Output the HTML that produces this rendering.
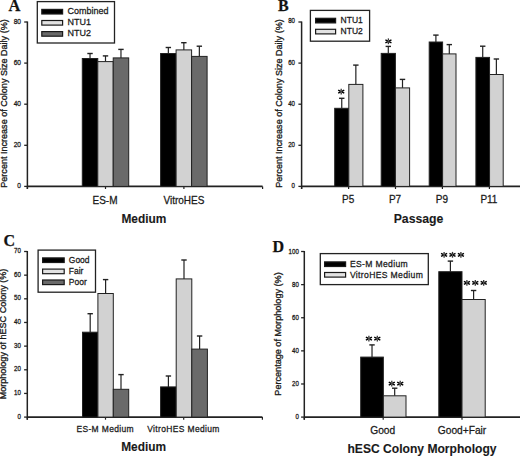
<!DOCTYPE html>
<html><head><meta charset="utf-8"><style>
html,body{margin:0;padding:0;background:#fff;}
svg{display:block;}
</style></head><body>
<svg width="520" height="457" viewBox="0 0 520 457">
<rect x="0" y="0" width="520" height="457" fill="#fff"/>
<text x="0" y="0" transform="translate(8.40 10.50)" font-family="&quot;Liberation Serif&quot;, serif" font-size="16.5" font-weight="bold" text-anchor="start" fill="#111" stroke="#1a1a1a" stroke-width="0.25">A</text>
<line x1="27.40" y1="21.50" x2="27.40" y2="189.00" stroke="#222" stroke-width="1.5"/>
<line x1="24.20" y1="186.40" x2="27.40" y2="186.40" stroke="#222" stroke-width="1.3"/>
<text x="0" y="0" transform="translate(21.00 188.01) scale(1 1.100)" font-family="&quot;Liberation Sans&quot;, sans-serif" font-size="6.6" font-weight="normal" text-anchor="end" fill="#1a1a1a" stroke="#1a1a1a" stroke-width="0.25">0</text>
<line x1="24.20" y1="145.30" x2="27.40" y2="145.30" stroke="#222" stroke-width="1.3"/>
<text x="0" y="0" transform="translate(21.00 146.91) scale(1 1.100)" font-family="&quot;Liberation Sans&quot;, sans-serif" font-size="6.6" font-weight="normal" text-anchor="end" fill="#1a1a1a" stroke="#1a1a1a" stroke-width="0.25">20</text>
<line x1="24.20" y1="104.20" x2="27.40" y2="104.20" stroke="#222" stroke-width="1.3"/>
<text x="0" y="0" transform="translate(21.00 105.81) scale(1 1.100)" font-family="&quot;Liberation Sans&quot;, sans-serif" font-size="6.6" font-weight="normal" text-anchor="end" fill="#1a1a1a" stroke="#1a1a1a" stroke-width="0.25">40</text>
<line x1="24.20" y1="63.10" x2="27.40" y2="63.10" stroke="#222" stroke-width="1.3"/>
<text x="0" y="0" transform="translate(21.00 64.71) scale(1 1.100)" font-family="&quot;Liberation Sans&quot;, sans-serif" font-size="6.6" font-weight="normal" text-anchor="end" fill="#1a1a1a" stroke="#1a1a1a" stroke-width="0.25">60</text>
<line x1="24.20" y1="22.00" x2="27.40" y2="22.00" stroke="#222" stroke-width="1.3"/>
<text x="0" y="0" transform="translate(21.00 23.61) scale(1 1.100)" font-family="&quot;Liberation Sans&quot;, sans-serif" font-size="6.6" font-weight="normal" text-anchor="end" fill="#1a1a1a" stroke="#1a1a1a" stroke-width="0.25">80</text>
<line x1="27.40" y1="186.40" x2="262.60" y2="186.40" stroke="#222" stroke-width="1.6"/>
<line x1="27.40" y1="186.40" x2="27.40" y2="189.00" stroke="#222" stroke-width="1.2"/>
<line x1="105.50" y1="186.40" x2="105.50" y2="189.00" stroke="#222" stroke-width="1.2"/>
<line x1="183.90" y1="186.40" x2="183.90" y2="189.00" stroke="#222" stroke-width="1.2"/>
<line x1="262.60" y1="186.40" x2="262.60" y2="189.00" stroke="#222" stroke-width="1.2"/>
<line x1="90.03" y1="58.50" x2="90.03" y2="53.50" stroke="#222" stroke-width="1.2"/>
<line x1="87.33" y1="53.50" x2="92.73" y2="53.50" stroke="#222" stroke-width="1.4"/>
<rect x="82.30" y="58.50" width="15.47" height="127.90" fill="#000" stroke="#222" stroke-width="1.0"/>
<line x1="105.50" y1="61.60" x2="105.50" y2="55.90" stroke="#222" stroke-width="1.2"/>
<line x1="102.80" y1="55.90" x2="108.20" y2="55.90" stroke="#222" stroke-width="1.4"/>
<rect x="97.77" y="61.60" width="15.47" height="124.80" fill="#d2d2d2" stroke="#222" stroke-width="1.0"/>
<line x1="120.97" y1="57.90" x2="120.97" y2="49.40" stroke="#222" stroke-width="1.2"/>
<line x1="118.27" y1="49.40" x2="123.67" y2="49.40" stroke="#222" stroke-width="1.4"/>
<rect x="113.23" y="57.90" width="15.47" height="128.50" fill="#6a6a6a" stroke="#222" stroke-width="1.0"/>
<line x1="168.35" y1="53.50" x2="168.35" y2="47.50" stroke="#222" stroke-width="1.2"/>
<line x1="165.65" y1="47.50" x2="171.05" y2="47.50" stroke="#222" stroke-width="1.4"/>
<rect x="160.60" y="53.50" width="15.50" height="132.90" fill="#000" stroke="#222" stroke-width="1.0"/>
<line x1="183.85" y1="49.90" x2="183.85" y2="42.70" stroke="#222" stroke-width="1.2"/>
<line x1="181.15" y1="42.70" x2="186.55" y2="42.70" stroke="#222" stroke-width="1.4"/>
<rect x="176.10" y="49.90" width="15.50" height="136.50" fill="#d2d2d2" stroke="#222" stroke-width="1.0"/>
<line x1="199.35" y1="56.40" x2="199.35" y2="46.20" stroke="#222" stroke-width="1.2"/>
<line x1="196.65" y1="46.20" x2="202.05" y2="46.20" stroke="#222" stroke-width="1.4"/>
<rect x="191.60" y="56.40" width="15.50" height="130.00" fill="#6a6a6a" stroke="#222" stroke-width="1.0"/>
<rect x="37.30" y="1.60" width="77.20" height="41.40" fill="#fff" stroke="#222" stroke-width="1.3"/>
<rect x="41.80" y="9.40" width="20.80" height="4.60" fill="#000" stroke="#1a1a1a" stroke-width="1.2"/>
<text x="0" y="0" transform="translate(67.50 14.26) scale(1 1.100)" font-family="&quot;Liberation Sans&quot;, sans-serif" font-size="9.0" font-weight="normal" text-anchor="start" fill="#1a1a1a" stroke="#1a1a1a" stroke-width="0.25">Combined</text>
<rect x="41.80" y="20.50" width="20.80" height="4.60" fill="#e2e2e2" stroke="#1a1a1a" stroke-width="1.2"/>
<text x="0" y="0" transform="translate(67.50 25.36) scale(1 1.100)" font-family="&quot;Liberation Sans&quot;, sans-serif" font-size="9.0" font-weight="normal" text-anchor="start" fill="#1a1a1a" stroke="#1a1a1a" stroke-width="0.25">NTU1</text>
<rect x="41.80" y="31.60" width="20.80" height="4.60" fill="#6a6a6a" stroke="#1a1a1a" stroke-width="1.2"/>
<text x="0" y="0" transform="translate(67.50 36.46) scale(1 1.100)" font-family="&quot;Liberation Sans&quot;, sans-serif" font-size="9.0" font-weight="normal" text-anchor="start" fill="#1a1a1a" stroke="#1a1a1a" stroke-width="0.25">NTU2</text>
<text x="0" y="0" transform="translate(6.60 103.50) rotate(-90)" font-family="&quot;Liberation Sans&quot;, sans-serif" font-size="9.05" font-weight="normal" text-anchor="middle" fill="#1a1a1a" stroke="#1a1a1a" stroke-width="0.32">Percent Increase of Colony Size Daily (%)</text>
<text x="0" y="0" transform="translate(105.00 203.60) scale(1 1.030)" font-family="&quot;Liberation Sans&quot;, sans-serif" font-size="10" font-weight="normal" text-anchor="middle" fill="#1a1a1a" stroke="#1a1a1a" stroke-width="0.25">ES-M</text>
<text x="0" y="0" transform="translate(183.90 203.60) scale(1 1.030)" font-family="&quot;Liberation Sans&quot;, sans-serif" font-size="10" font-weight="normal" text-anchor="middle" fill="#1a1a1a" stroke="#1a1a1a" stroke-width="0.25">VitroHES</text>
<text x="0" y="0" transform="translate(143.90 222.80) scale(1 1.080)" font-family="&quot;Liberation Sans&quot;, sans-serif" font-size="11.9" font-weight="bold" text-anchor="middle" fill="#1a1a1a" stroke="#1a1a1a" stroke-width="0.1">Medium</text>
<text x="0" y="0" transform="translate(277.90 10.80)" font-family="&quot;Liberation Serif&quot;, serif" font-size="16" font-weight="bold" text-anchor="start" fill="#111" stroke="#1a1a1a" stroke-width="0.25">B</text>
<line x1="301.60" y1="21.50" x2="301.60" y2="189.00" stroke="#222" stroke-width="1.5"/>
<line x1="298.40" y1="186.40" x2="301.60" y2="186.40" stroke="#222" stroke-width="1.3"/>
<text x="0" y="0" transform="translate(295.00 187.82) scale(1 1.100)" font-family="&quot;Liberation Sans&quot;, sans-serif" font-size="6.1" font-weight="normal" text-anchor="end" fill="#1a1a1a" stroke="#1a1a1a" stroke-width="0.25">0</text>
<line x1="298.40" y1="145.30" x2="301.60" y2="145.30" stroke="#222" stroke-width="1.3"/>
<text x="0" y="0" transform="translate(295.00 146.72) scale(1 1.100)" font-family="&quot;Liberation Sans&quot;, sans-serif" font-size="6.1" font-weight="normal" text-anchor="end" fill="#1a1a1a" stroke="#1a1a1a" stroke-width="0.25">20</text>
<line x1="298.40" y1="104.20" x2="301.60" y2="104.20" stroke="#222" stroke-width="1.3"/>
<text x="0" y="0" transform="translate(295.00 105.62) scale(1 1.100)" font-family="&quot;Liberation Sans&quot;, sans-serif" font-size="6.1" font-weight="normal" text-anchor="end" fill="#1a1a1a" stroke="#1a1a1a" stroke-width="0.25">40</text>
<line x1="298.40" y1="63.10" x2="301.60" y2="63.10" stroke="#222" stroke-width="1.3"/>
<text x="0" y="0" transform="translate(295.00 64.52) scale(1 1.100)" font-family="&quot;Liberation Sans&quot;, sans-serif" font-size="6.1" font-weight="normal" text-anchor="end" fill="#1a1a1a" stroke="#1a1a1a" stroke-width="0.25">60</text>
<line x1="298.40" y1="22.00" x2="301.60" y2="22.00" stroke="#222" stroke-width="1.3"/>
<text x="0" y="0" transform="translate(295.00 23.42) scale(1 1.100)" font-family="&quot;Liberation Sans&quot;, sans-serif" font-size="6.1" font-weight="normal" text-anchor="end" fill="#1a1a1a" stroke="#1a1a1a" stroke-width="0.25">80</text>
<line x1="301.60" y1="186.40" x2="520.00" y2="186.40" stroke="#222" stroke-width="1.6"/>
<line x1="301.60" y1="186.40" x2="301.60" y2="189.00" stroke="#222" stroke-width="1.2"/>
<line x1="348.60" y1="186.40" x2="348.60" y2="189.00" stroke="#222" stroke-width="1.2"/>
<line x1="395.50" y1="186.40" x2="395.50" y2="189.00" stroke="#222" stroke-width="1.2"/>
<line x1="442.40" y1="186.40" x2="442.40" y2="189.00" stroke="#222" stroke-width="1.2"/>
<line x1="489.40" y1="186.40" x2="489.40" y2="189.00" stroke="#222" stroke-width="1.2"/>
<line x1="341.75" y1="108.30" x2="341.75" y2="98.30" stroke="#222" stroke-width="1.2"/>
<line x1="339.05" y1="98.30" x2="344.45" y2="98.30" stroke="#222" stroke-width="1.4"/>
<rect x="334.70" y="108.30" width="14.10" height="78.10" fill="#000" stroke="#222" stroke-width="1.0"/>
<line x1="355.85" y1="84.40" x2="355.85" y2="65.10" stroke="#222" stroke-width="1.2"/>
<line x1="353.15" y1="65.10" x2="358.55" y2="65.10" stroke="#222" stroke-width="1.4"/>
<rect x="348.80" y="84.40" width="14.10" height="102.00" fill="#d2d2d2" stroke="#222" stroke-width="1.0"/>
<line x1="388.30" y1="53.40" x2="388.30" y2="46.40" stroke="#222" stroke-width="1.2"/>
<line x1="385.60" y1="46.40" x2="391.00" y2="46.40" stroke="#222" stroke-width="1.4"/>
<rect x="381.20" y="53.40" width="14.20" height="133.00" fill="#000" stroke="#222" stroke-width="1.0"/>
<line x1="402.50" y1="87.90" x2="402.50" y2="79.40" stroke="#222" stroke-width="1.2"/>
<line x1="399.80" y1="79.40" x2="405.20" y2="79.40" stroke="#222" stroke-width="1.4"/>
<rect x="395.40" y="87.90" width="14.20" height="98.50" fill="#d2d2d2" stroke="#222" stroke-width="1.0"/>
<line x1="435.90" y1="42.00" x2="435.90" y2="35.10" stroke="#222" stroke-width="1.2"/>
<line x1="433.20" y1="35.10" x2="438.60" y2="35.10" stroke="#222" stroke-width="1.4"/>
<rect x="429.20" y="42.00" width="13.40" height="144.40" fill="#000" stroke="#222" stroke-width="1.0"/>
<line x1="449.30" y1="53.90" x2="449.30" y2="44.60" stroke="#222" stroke-width="1.2"/>
<line x1="446.60" y1="44.60" x2="452.00" y2="44.60" stroke="#222" stroke-width="1.4"/>
<rect x="442.60" y="53.90" width="13.40" height="132.50" fill="#d2d2d2" stroke="#222" stroke-width="1.0"/>
<line x1="482.72" y1="57.40" x2="482.72" y2="46.20" stroke="#222" stroke-width="1.2"/>
<line x1="480.02" y1="46.20" x2="485.42" y2="46.20" stroke="#222" stroke-width="1.4"/>
<rect x="475.90" y="57.40" width="13.65" height="129.00" fill="#000" stroke="#222" stroke-width="1.0"/>
<line x1="496.38" y1="74.50" x2="496.38" y2="59.00" stroke="#222" stroke-width="1.2"/>
<line x1="493.68" y1="59.00" x2="499.07" y2="59.00" stroke="#222" stroke-width="1.4"/>
<rect x="489.55" y="74.50" width="13.65" height="111.90" fill="#d2d2d2" stroke="#222" stroke-width="1.0"/>
<line x1="341.20" y1="90.80" x2="341.20" y2="88.70" stroke="#333" stroke-width="1.3"/>
<line x1="341.20" y1="92.40" x2="341.20" y2="94.50" stroke="#333" stroke-width="1.3"/>
<line x1="341.73" y1="91.33" x2="344.23" y2="90.06" stroke="#000" stroke-width="1.4"/>
<line x1="341.73" y1="91.87" x2="344.23" y2="93.14" stroke="#000" stroke-width="1.4"/>
<line x1="340.67" y1="91.33" x2="338.17" y2="90.06" stroke="#000" stroke-width="1.4"/>
<line x1="340.67" y1="91.87" x2="338.17" y2="93.14" stroke="#000" stroke-width="1.4"/>
<circle cx="341.20" cy="91.60" r="0.9" fill="#444"/>
<line x1="388.40" y1="40.50" x2="388.40" y2="38.40" stroke="#333" stroke-width="1.3"/>
<line x1="388.40" y1="42.10" x2="388.40" y2="44.20" stroke="#333" stroke-width="1.3"/>
<line x1="388.93" y1="41.03" x2="391.43" y2="39.76" stroke="#000" stroke-width="1.4"/>
<line x1="388.93" y1="41.57" x2="391.43" y2="42.84" stroke="#000" stroke-width="1.4"/>
<line x1="387.87" y1="41.03" x2="385.37" y2="39.76" stroke="#000" stroke-width="1.4"/>
<line x1="387.87" y1="41.57" x2="385.37" y2="42.84" stroke="#000" stroke-width="1.4"/>
<circle cx="388.40" cy="41.30" r="0.9" fill="#444"/>
<rect x="310.40" y="10.40" width="59.20" height="30.80" fill="#fff" stroke="#222" stroke-width="1.3"/>
<rect x="315.60" y="18.30" width="20.00" height="4.60" fill="#000" stroke="#1a1a1a" stroke-width="1.2"/>
<text x="0" y="0" transform="translate(340.60 22.97) scale(1 1.100)" font-family="&quot;Liberation Sans&quot;, sans-serif" font-size="8.5" font-weight="normal" text-anchor="start" fill="#1a1a1a" stroke="#1a1a1a" stroke-width="0.25">NTU1</text>
<rect x="315.60" y="29.30" width="20.00" height="4.60" fill="#e2e2e2" stroke="#1a1a1a" stroke-width="1.2"/>
<text x="0" y="0" transform="translate(340.60 33.97) scale(1 1.100)" font-family="&quot;Liberation Sans&quot;, sans-serif" font-size="8.5" font-weight="normal" text-anchor="start" fill="#1a1a1a" stroke="#1a1a1a" stroke-width="0.25">NTU2</text>
<text x="0" y="0" transform="translate(281.80 103.50) rotate(-90)" font-family="&quot;Liberation Sans&quot;, sans-serif" font-size="9.05" font-weight="normal" text-anchor="middle" fill="#1a1a1a" stroke="#1a1a1a" stroke-width="0.32">Percent Increase of Colony Size Daily (%)</text>
<text x="0" y="0" transform="translate(348.10 203.20) scale(1 1.030)" font-family="&quot;Liberation Sans&quot;, sans-serif" font-size="10" font-weight="normal" text-anchor="middle" fill="#1a1a1a" stroke="#1a1a1a" stroke-width="0.25">P5</text>
<text x="0" y="0" transform="translate(395.00 203.20) scale(1 1.030)" font-family="&quot;Liberation Sans&quot;, sans-serif" font-size="10" font-weight="normal" text-anchor="middle" fill="#1a1a1a" stroke="#1a1a1a" stroke-width="0.25">P7</text>
<text x="0" y="0" transform="translate(441.90 203.20) scale(1 1.030)" font-family="&quot;Liberation Sans&quot;, sans-serif" font-size="10" font-weight="normal" text-anchor="middle" fill="#1a1a1a" stroke="#1a1a1a" stroke-width="0.25">P9</text>
<text x="0" y="0" transform="translate(488.90 203.20) scale(1 1.030)" font-family="&quot;Liberation Sans&quot;, sans-serif" font-size="10" font-weight="normal" text-anchor="middle" fill="#1a1a1a" stroke="#1a1a1a" stroke-width="0.25">P11</text>
<text x="0" y="0" transform="translate(418.50 223.00) scale(1 1.080)" font-family="&quot;Liberation Sans&quot;, sans-serif" font-size="12.25" font-weight="bold" text-anchor="middle" fill="#1a1a1a" stroke="#1a1a1a" stroke-width="0.1">Passage</text>
<text x="0" y="0" transform="translate(3.50 246.20)" font-family="&quot;Liberation Serif&quot;, serif" font-size="16" font-weight="bold" text-anchor="start" fill="#111" stroke="#1a1a1a" stroke-width="0.25">C</text>
<line x1="27.30" y1="251.00" x2="27.30" y2="419.70" stroke="#222" stroke-width="1.5"/>
<line x1="24.10" y1="417.10" x2="27.30" y2="417.10" stroke="#222" stroke-width="1.3"/>
<text x="0" y="0" transform="translate(21.00 418.56) scale(1 1.100)" font-family="&quot;Liberation Sans&quot;, sans-serif" font-size="6.2" font-weight="normal" text-anchor="end" fill="#1a1a1a" stroke="#1a1a1a" stroke-width="0.25">0</text>
<line x1="24.10" y1="393.44" x2="27.30" y2="393.44" stroke="#222" stroke-width="1.3"/>
<text x="0" y="0" transform="translate(21.00 394.90) scale(1 1.100)" font-family="&quot;Liberation Sans&quot;, sans-serif" font-size="6.2" font-weight="normal" text-anchor="end" fill="#1a1a1a" stroke="#1a1a1a" stroke-width="0.25">10</text>
<line x1="24.10" y1="369.79" x2="27.30" y2="369.79" stroke="#222" stroke-width="1.3"/>
<text x="0" y="0" transform="translate(21.00 371.24) scale(1 1.100)" font-family="&quot;Liberation Sans&quot;, sans-serif" font-size="6.2" font-weight="normal" text-anchor="end" fill="#1a1a1a" stroke="#1a1a1a" stroke-width="0.25">20</text>
<line x1="24.10" y1="346.13" x2="27.30" y2="346.13" stroke="#222" stroke-width="1.3"/>
<text x="0" y="0" transform="translate(21.00 347.58) scale(1 1.100)" font-family="&quot;Liberation Sans&quot;, sans-serif" font-size="6.2" font-weight="normal" text-anchor="end" fill="#1a1a1a" stroke="#1a1a1a" stroke-width="0.25">30</text>
<line x1="24.10" y1="322.47" x2="27.30" y2="322.47" stroke="#222" stroke-width="1.3"/>
<text x="0" y="0" transform="translate(21.00 323.93) scale(1 1.100)" font-family="&quot;Liberation Sans&quot;, sans-serif" font-size="6.2" font-weight="normal" text-anchor="end" fill="#1a1a1a" stroke="#1a1a1a" stroke-width="0.25">40</text>
<line x1="24.10" y1="298.81" x2="27.30" y2="298.81" stroke="#222" stroke-width="1.3"/>
<text x="0" y="0" transform="translate(21.00 300.27) scale(1 1.100)" font-family="&quot;Liberation Sans&quot;, sans-serif" font-size="6.2" font-weight="normal" text-anchor="end" fill="#1a1a1a" stroke="#1a1a1a" stroke-width="0.25">50</text>
<line x1="24.10" y1="275.16" x2="27.30" y2="275.16" stroke="#222" stroke-width="1.3"/>
<text x="0" y="0" transform="translate(21.00 276.61) scale(1 1.100)" font-family="&quot;Liberation Sans&quot;, sans-serif" font-size="6.2" font-weight="normal" text-anchor="end" fill="#1a1a1a" stroke="#1a1a1a" stroke-width="0.25">60</text>
<line x1="24.10" y1="251.50" x2="27.30" y2="251.50" stroke="#222" stroke-width="1.3"/>
<text x="0" y="0" transform="translate(21.00 252.96) scale(1 1.100)" font-family="&quot;Liberation Sans&quot;, sans-serif" font-size="6.2" font-weight="normal" text-anchor="end" fill="#1a1a1a" stroke="#1a1a1a" stroke-width="0.25">70</text>
<line x1="27.30" y1="417.10" x2="262.40" y2="417.10" stroke="#222" stroke-width="1.6"/>
<line x1="27.30" y1="417.10" x2="27.30" y2="419.70" stroke="#222" stroke-width="1.2"/>
<line x1="105.50" y1="417.10" x2="105.50" y2="419.70" stroke="#222" stroke-width="1.2"/>
<line x1="183.70" y1="417.10" x2="183.70" y2="419.70" stroke="#222" stroke-width="1.2"/>
<line x1="262.40" y1="417.10" x2="262.40" y2="419.70" stroke="#222" stroke-width="1.2"/>
<line x1="90.20" y1="332.20" x2="90.20" y2="313.70" stroke="#222" stroke-width="1.2"/>
<line x1="87.50" y1="313.70" x2="92.90" y2="313.70" stroke="#222" stroke-width="1.4"/>
<rect x="82.50" y="332.20" width="15.40" height="84.90" fill="#000" stroke="#222" stroke-width="1.0"/>
<line x1="105.60" y1="293.50" x2="105.60" y2="279.60" stroke="#222" stroke-width="1.2"/>
<line x1="102.90" y1="279.60" x2="108.30" y2="279.60" stroke="#222" stroke-width="1.4"/>
<rect x="97.90" y="293.50" width="15.40" height="123.60" fill="#d2d2d2" stroke="#222" stroke-width="1.0"/>
<line x1="121.00" y1="389.30" x2="121.00" y2="374.60" stroke="#222" stroke-width="1.2"/>
<line x1="118.30" y1="374.60" x2="123.70" y2="374.60" stroke="#222" stroke-width="1.4"/>
<rect x="113.30" y="389.30" width="15.40" height="27.80" fill="#6a6a6a" stroke="#222" stroke-width="1.0"/>
<line x1="168.40" y1="386.90" x2="168.40" y2="376.00" stroke="#222" stroke-width="1.2"/>
<line x1="165.70" y1="376.00" x2="171.10" y2="376.00" stroke="#222" stroke-width="1.4"/>
<rect x="160.60" y="386.90" width="15.60" height="30.20" fill="#000" stroke="#222" stroke-width="1.0"/>
<line x1="184.00" y1="278.90" x2="184.00" y2="260.00" stroke="#222" stroke-width="1.2"/>
<line x1="181.30" y1="260.00" x2="186.70" y2="260.00" stroke="#222" stroke-width="1.4"/>
<rect x="176.20" y="278.90" width="15.60" height="138.20" fill="#d2d2d2" stroke="#222" stroke-width="1.0"/>
<line x1="199.60" y1="349.10" x2="199.60" y2="336.00" stroke="#222" stroke-width="1.2"/>
<line x1="196.90" y1="336.00" x2="202.30" y2="336.00" stroke="#222" stroke-width="1.4"/>
<rect x="191.80" y="349.10" width="15.60" height="68.00" fill="#6a6a6a" stroke="#222" stroke-width="1.0"/>
<rect x="38.10" y="250.10" width="57.40" height="42.10" fill="#fff" stroke="#222" stroke-width="1.3"/>
<rect x="42.60" y="257.90" width="21.60" height="4.60" fill="#000" stroke="#1a1a1a" stroke-width="1.2"/>
<text x="0" y="0" transform="translate(68.80 262.57) scale(1 1.100)" font-family="&quot;Liberation Sans&quot;, sans-serif" font-size="8.5" font-weight="normal" text-anchor="start" fill="#1a1a1a" stroke="#1a1a1a" stroke-width="0.25">Good</text>
<rect x="42.60" y="269.10" width="21.60" height="4.60" fill="#e2e2e2" stroke="#1a1a1a" stroke-width="1.2"/>
<text x="0" y="0" transform="translate(68.80 273.77) scale(1 1.100)" font-family="&quot;Liberation Sans&quot;, sans-serif" font-size="8.5" font-weight="normal" text-anchor="start" fill="#1a1a1a" stroke="#1a1a1a" stroke-width="0.25">Fair</text>
<rect x="42.60" y="280.00" width="21.60" height="4.60" fill="#6a6a6a" stroke="#1a1a1a" stroke-width="1.2"/>
<text x="0" y="0" transform="translate(68.80 284.67) scale(1 1.100)" font-family="&quot;Liberation Sans&quot;, sans-serif" font-size="8.5" font-weight="normal" text-anchor="start" fill="#1a1a1a" stroke="#1a1a1a" stroke-width="0.25">Poor</text>
<text x="0" y="0" transform="translate(6.30 334.00) rotate(-90)" font-family="&quot;Liberation Sans&quot;, sans-serif" font-size="9.05" font-weight="normal" text-anchor="middle" fill="#1a1a1a" stroke="#1a1a1a" stroke-width="0.32">Morphology of hESC Colony (%)</text>
<text x="0" y="0" transform="translate(105.20 431.90) scale(1 1.100)" font-family="&quot;Liberation Sans&quot;, sans-serif" font-size="8.5" font-weight="normal" text-anchor="middle" fill="#1a1a1a" letter-spacing="0.35" stroke="#1a1a1a" stroke-width="0.25">ES-M Medium</text>
<text x="0" y="0" transform="translate(183.50 431.90) scale(1 1.100)" font-family="&quot;Liberation Sans&quot;, sans-serif" font-size="8.5" font-weight="normal" text-anchor="middle" fill="#1a1a1a" letter-spacing="0.35" stroke="#1a1a1a" stroke-width="0.25">VitroHES Medium</text>
<text x="0" y="0" transform="translate(143.60 451.00) scale(1 1.080)" font-family="&quot;Liberation Sans&quot;, sans-serif" font-size="11.9" font-weight="bold" text-anchor="middle" fill="#1a1a1a" stroke="#1a1a1a" stroke-width="0.1">Medium</text>
<text x="0" y="0" transform="translate(272.60 251.60)" font-family="&quot;Liberation Serif&quot;, serif" font-size="16" font-weight="bold" text-anchor="start" fill="#111" stroke="#1a1a1a" stroke-width="0.25">D</text>
<line x1="304.30" y1="251.00" x2="304.30" y2="419.70" stroke="#222" stroke-width="1.5"/>
<line x1="301.10" y1="417.10" x2="304.30" y2="417.10" stroke="#222" stroke-width="1.3"/>
<text x="0" y="0" transform="translate(298.80 419.32) scale(1 1.100)" font-family="&quot;Liberation Sans&quot;, sans-serif" font-size="6.1" font-weight="normal" text-anchor="end" fill="#1a1a1a" stroke="#1a1a1a" stroke-width="0.25">0</text>
<line x1="301.10" y1="383.98" x2="304.30" y2="383.98" stroke="#222" stroke-width="1.3"/>
<text x="0" y="0" transform="translate(298.80 386.20) scale(1 1.100)" font-family="&quot;Liberation Sans&quot;, sans-serif" font-size="6.1" font-weight="normal" text-anchor="end" fill="#1a1a1a" stroke="#1a1a1a" stroke-width="0.25">20</text>
<line x1="301.10" y1="350.86" x2="304.30" y2="350.86" stroke="#222" stroke-width="1.3"/>
<text x="0" y="0" transform="translate(298.80 353.08) scale(1 1.100)" font-family="&quot;Liberation Sans&quot;, sans-serif" font-size="6.1" font-weight="normal" text-anchor="end" fill="#1a1a1a" stroke="#1a1a1a" stroke-width="0.25">40</text>
<line x1="301.10" y1="317.74" x2="304.30" y2="317.74" stroke="#222" stroke-width="1.3"/>
<text x="0" y="0" transform="translate(298.80 319.96) scale(1 1.100)" font-family="&quot;Liberation Sans&quot;, sans-serif" font-size="6.1" font-weight="normal" text-anchor="end" fill="#1a1a1a" stroke="#1a1a1a" stroke-width="0.25">60</text>
<line x1="301.10" y1="284.62" x2="304.30" y2="284.62" stroke="#222" stroke-width="1.3"/>
<text x="0" y="0" transform="translate(298.80 286.84) scale(1 1.100)" font-family="&quot;Liberation Sans&quot;, sans-serif" font-size="6.1" font-weight="normal" text-anchor="end" fill="#1a1a1a" stroke="#1a1a1a" stroke-width="0.25">80</text>
<line x1="301.10" y1="251.50" x2="304.30" y2="251.50" stroke="#222" stroke-width="1.3"/>
<text x="0" y="0" transform="translate(298.80 253.72) scale(1 1.100)" font-family="&quot;Liberation Sans&quot;, sans-serif" font-size="6.1" font-weight="normal" text-anchor="end" fill="#1a1a1a" stroke="#1a1a1a" stroke-width="0.25">100</text>
<line x1="304.30" y1="417.10" x2="520.00" y2="417.10" stroke="#222" stroke-width="1.6"/>
<line x1="304.30" y1="417.10" x2="304.30" y2="419.70" stroke="#222" stroke-width="1.2"/>
<line x1="383.20" y1="417.10" x2="383.20" y2="419.70" stroke="#222" stroke-width="1.2"/>
<line x1="462.00" y1="417.10" x2="462.00" y2="419.70" stroke="#222" stroke-width="1.2"/>
<line x1="372.02" y1="357.10" x2="372.02" y2="344.90" stroke="#222" stroke-width="1.2"/>
<line x1="369.32" y1="344.90" x2="374.72" y2="344.90" stroke="#222" stroke-width="1.4"/>
<rect x="360.70" y="357.10" width="22.65" height="60.00" fill="#000" stroke="#222" stroke-width="1.0"/>
<line x1="394.68" y1="395.80" x2="394.68" y2="388.20" stroke="#222" stroke-width="1.2"/>
<line x1="391.98" y1="388.20" x2="397.38" y2="388.20" stroke="#222" stroke-width="1.4"/>
<rect x="383.35" y="395.80" width="22.65" height="21.30" fill="#d2d2d2" stroke="#222" stroke-width="1.0"/>
<line x1="450.40" y1="271.70" x2="450.40" y2="261.10" stroke="#222" stroke-width="1.2"/>
<line x1="447.70" y1="261.10" x2="453.10" y2="261.10" stroke="#222" stroke-width="1.4"/>
<rect x="438.80" y="271.70" width="23.20" height="145.40" fill="#000" stroke="#222" stroke-width="1.0"/>
<line x1="473.60" y1="299.50" x2="473.60" y2="290.50" stroke="#222" stroke-width="1.2"/>
<line x1="470.90" y1="290.50" x2="476.30" y2="290.50" stroke="#222" stroke-width="1.4"/>
<rect x="462.00" y="299.50" width="23.20" height="117.60" fill="#d2d2d2" stroke="#222" stroke-width="1.0"/>
<line x1="368.90" y1="337.80" x2="368.90" y2="335.70" stroke="#333" stroke-width="1.3"/>
<line x1="368.90" y1="339.40" x2="368.90" y2="341.50" stroke="#333" stroke-width="1.3"/>
<line x1="369.43" y1="338.33" x2="371.93" y2="337.06" stroke="#000" stroke-width="1.4"/>
<line x1="369.43" y1="338.87" x2="371.93" y2="340.14" stroke="#000" stroke-width="1.4"/>
<line x1="368.37" y1="338.33" x2="365.87" y2="337.06" stroke="#000" stroke-width="1.4"/>
<line x1="368.37" y1="338.87" x2="365.87" y2="340.14" stroke="#000" stroke-width="1.4"/>
<circle cx="368.90" cy="338.60" r="0.9" fill="#444"/>
<line x1="377.30" y1="337.80" x2="377.30" y2="335.70" stroke="#333" stroke-width="1.3"/>
<line x1="377.30" y1="339.40" x2="377.30" y2="341.50" stroke="#333" stroke-width="1.3"/>
<line x1="377.83" y1="338.33" x2="380.33" y2="337.06" stroke="#000" stroke-width="1.4"/>
<line x1="377.83" y1="338.87" x2="380.33" y2="340.14" stroke="#000" stroke-width="1.4"/>
<line x1="376.77" y1="338.33" x2="374.27" y2="337.06" stroke="#000" stroke-width="1.4"/>
<line x1="376.77" y1="338.87" x2="374.27" y2="340.14" stroke="#000" stroke-width="1.4"/>
<circle cx="377.30" cy="338.60" r="0.9" fill="#444"/>
<line x1="391.80" y1="382.80" x2="391.80" y2="380.70" stroke="#333" stroke-width="1.3"/>
<line x1="391.80" y1="384.40" x2="391.80" y2="386.50" stroke="#333" stroke-width="1.3"/>
<line x1="392.33" y1="383.33" x2="394.83" y2="382.06" stroke="#000" stroke-width="1.4"/>
<line x1="392.33" y1="383.87" x2="394.83" y2="385.14" stroke="#000" stroke-width="1.4"/>
<line x1="391.27" y1="383.33" x2="388.77" y2="382.06" stroke="#000" stroke-width="1.4"/>
<line x1="391.27" y1="383.87" x2="388.77" y2="385.14" stroke="#000" stroke-width="1.4"/>
<circle cx="391.80" cy="383.60" r="0.9" fill="#444"/>
<line x1="400.20" y1="382.80" x2="400.20" y2="380.70" stroke="#333" stroke-width="1.3"/>
<line x1="400.20" y1="384.40" x2="400.20" y2="386.50" stroke="#333" stroke-width="1.3"/>
<line x1="400.73" y1="383.33" x2="403.23" y2="382.06" stroke="#000" stroke-width="1.4"/>
<line x1="400.73" y1="383.87" x2="403.23" y2="385.14" stroke="#000" stroke-width="1.4"/>
<line x1="399.67" y1="383.33" x2="397.17" y2="382.06" stroke="#000" stroke-width="1.4"/>
<line x1="399.67" y1="383.87" x2="397.17" y2="385.14" stroke="#000" stroke-width="1.4"/>
<circle cx="400.20" cy="383.60" r="0.9" fill="#444"/>
<line x1="444.10" y1="254.00" x2="444.10" y2="251.90" stroke="#333" stroke-width="1.3"/>
<line x1="444.10" y1="255.60" x2="444.10" y2="257.70" stroke="#333" stroke-width="1.3"/>
<line x1="444.63" y1="254.53" x2="447.13" y2="253.26" stroke="#000" stroke-width="1.4"/>
<line x1="444.63" y1="255.07" x2="447.13" y2="256.34" stroke="#000" stroke-width="1.4"/>
<line x1="443.57" y1="254.53" x2="441.07" y2="253.26" stroke="#000" stroke-width="1.4"/>
<line x1="443.57" y1="255.07" x2="441.07" y2="256.34" stroke="#000" stroke-width="1.4"/>
<circle cx="444.10" cy="254.80" r="0.9" fill="#444"/>
<line x1="452.50" y1="254.00" x2="452.50" y2="251.90" stroke="#333" stroke-width="1.3"/>
<line x1="452.50" y1="255.60" x2="452.50" y2="257.70" stroke="#333" stroke-width="1.3"/>
<line x1="453.03" y1="254.53" x2="455.53" y2="253.26" stroke="#000" stroke-width="1.4"/>
<line x1="453.03" y1="255.07" x2="455.53" y2="256.34" stroke="#000" stroke-width="1.4"/>
<line x1="451.97" y1="254.53" x2="449.47" y2="253.26" stroke="#000" stroke-width="1.4"/>
<line x1="451.97" y1="255.07" x2="449.47" y2="256.34" stroke="#000" stroke-width="1.4"/>
<circle cx="452.50" cy="254.80" r="0.9" fill="#444"/>
<line x1="460.90" y1="254.00" x2="460.90" y2="251.90" stroke="#333" stroke-width="1.3"/>
<line x1="460.90" y1="255.60" x2="460.90" y2="257.70" stroke="#333" stroke-width="1.3"/>
<line x1="461.43" y1="254.53" x2="463.93" y2="253.26" stroke="#000" stroke-width="1.4"/>
<line x1="461.43" y1="255.07" x2="463.93" y2="256.34" stroke="#000" stroke-width="1.4"/>
<line x1="460.37" y1="254.53" x2="457.87" y2="253.26" stroke="#000" stroke-width="1.4"/>
<line x1="460.37" y1="255.07" x2="457.87" y2="256.34" stroke="#000" stroke-width="1.4"/>
<circle cx="460.90" cy="254.80" r="0.9" fill="#444"/>
<line x1="466.90" y1="282.00" x2="466.90" y2="279.90" stroke="#333" stroke-width="1.3"/>
<line x1="466.90" y1="283.60" x2="466.90" y2="285.70" stroke="#333" stroke-width="1.3"/>
<line x1="467.43" y1="282.53" x2="469.93" y2="281.26" stroke="#000" stroke-width="1.4"/>
<line x1="467.43" y1="283.07" x2="469.93" y2="284.34" stroke="#000" stroke-width="1.4"/>
<line x1="466.37" y1="282.53" x2="463.87" y2="281.26" stroke="#000" stroke-width="1.4"/>
<line x1="466.37" y1="283.07" x2="463.87" y2="284.34" stroke="#000" stroke-width="1.4"/>
<circle cx="466.90" cy="282.80" r="0.9" fill="#444"/>
<line x1="475.30" y1="282.00" x2="475.30" y2="279.90" stroke="#333" stroke-width="1.3"/>
<line x1="475.30" y1="283.60" x2="475.30" y2="285.70" stroke="#333" stroke-width="1.3"/>
<line x1="475.83" y1="282.53" x2="478.33" y2="281.26" stroke="#000" stroke-width="1.4"/>
<line x1="475.83" y1="283.07" x2="478.33" y2="284.34" stroke="#000" stroke-width="1.4"/>
<line x1="474.77" y1="282.53" x2="472.27" y2="281.26" stroke="#000" stroke-width="1.4"/>
<line x1="474.77" y1="283.07" x2="472.27" y2="284.34" stroke="#000" stroke-width="1.4"/>
<circle cx="475.30" cy="282.80" r="0.9" fill="#444"/>
<line x1="483.70" y1="282.00" x2="483.70" y2="279.90" stroke="#333" stroke-width="1.3"/>
<line x1="483.70" y1="283.60" x2="483.70" y2="285.70" stroke="#333" stroke-width="1.3"/>
<line x1="484.23" y1="282.53" x2="486.73" y2="281.26" stroke="#000" stroke-width="1.4"/>
<line x1="484.23" y1="283.07" x2="486.73" y2="284.34" stroke="#000" stroke-width="1.4"/>
<line x1="483.17" y1="282.53" x2="480.67" y2="281.26" stroke="#000" stroke-width="1.4"/>
<line x1="483.17" y1="283.07" x2="480.67" y2="284.34" stroke="#000" stroke-width="1.4"/>
<circle cx="483.70" cy="282.80" r="0.9" fill="#444"/>
<rect x="320.30" y="253.60" width="108.00" height="31.00" fill="#fff" stroke="#222" stroke-width="1.3"/>
<rect x="324.60" y="261.90" width="21.00" height="4.60" fill="#000" stroke="#1a1a1a" stroke-width="1.2"/>
<text x="0" y="0" transform="translate(349.90 267.16) scale(1 1.150)" font-family="&quot;Liberation Sans&quot;, sans-serif" font-size="8.6" font-weight="normal" text-anchor="start" fill="#1a1a1a" letter-spacing="0.35" stroke="#1a1a1a" stroke-width="0.25">ES-M Medium</text>
<rect x="324.60" y="272.50" width="21.00" height="4.60" fill="#e2e2e2" stroke="#1a1a1a" stroke-width="1.2"/>
<text x="0" y="0" transform="translate(349.90 277.76) scale(1 1.150)" font-family="&quot;Liberation Sans&quot;, sans-serif" font-size="8.6" font-weight="normal" text-anchor="start" fill="#1a1a1a" letter-spacing="0.35" stroke="#1a1a1a" stroke-width="0.25">VitroHES Medium</text>
<text x="0" y="0" transform="translate(281.20 334.00) rotate(-90)" font-family="&quot;Liberation Sans&quot;, sans-serif" font-size="9.1" font-weight="normal" text-anchor="middle" fill="#1a1a1a" stroke="#1a1a1a" stroke-width="0.32">Percentage of Morphology (%)</text>
<text x="0" y="0" transform="translate(382.70 433.80) scale(1 1.030)" font-family="&quot;Liberation Sans&quot;, sans-serif" font-size="10.2" font-weight="normal" text-anchor="middle" fill="#1a1a1a" stroke="#1a1a1a" stroke-width="0.25">Good</text>
<text x="0" y="0" transform="translate(462.00 433.80) scale(1 1.030)" font-family="&quot;Liberation Sans&quot;, sans-serif" font-size="10.2" font-weight="normal" text-anchor="middle" fill="#1a1a1a" stroke="#1a1a1a" stroke-width="0.25">Good+Fair</text>
<text x="0" y="0" transform="translate(422.00 452.60) scale(1 1.080)" font-family="&quot;Liberation Sans&quot;, sans-serif" font-size="12.1" font-weight="bold" text-anchor="middle" fill="#1a1a1a" stroke="#1a1a1a" stroke-width="0.1">hESC Colony Morphology</text>
</svg>
</body></html>
